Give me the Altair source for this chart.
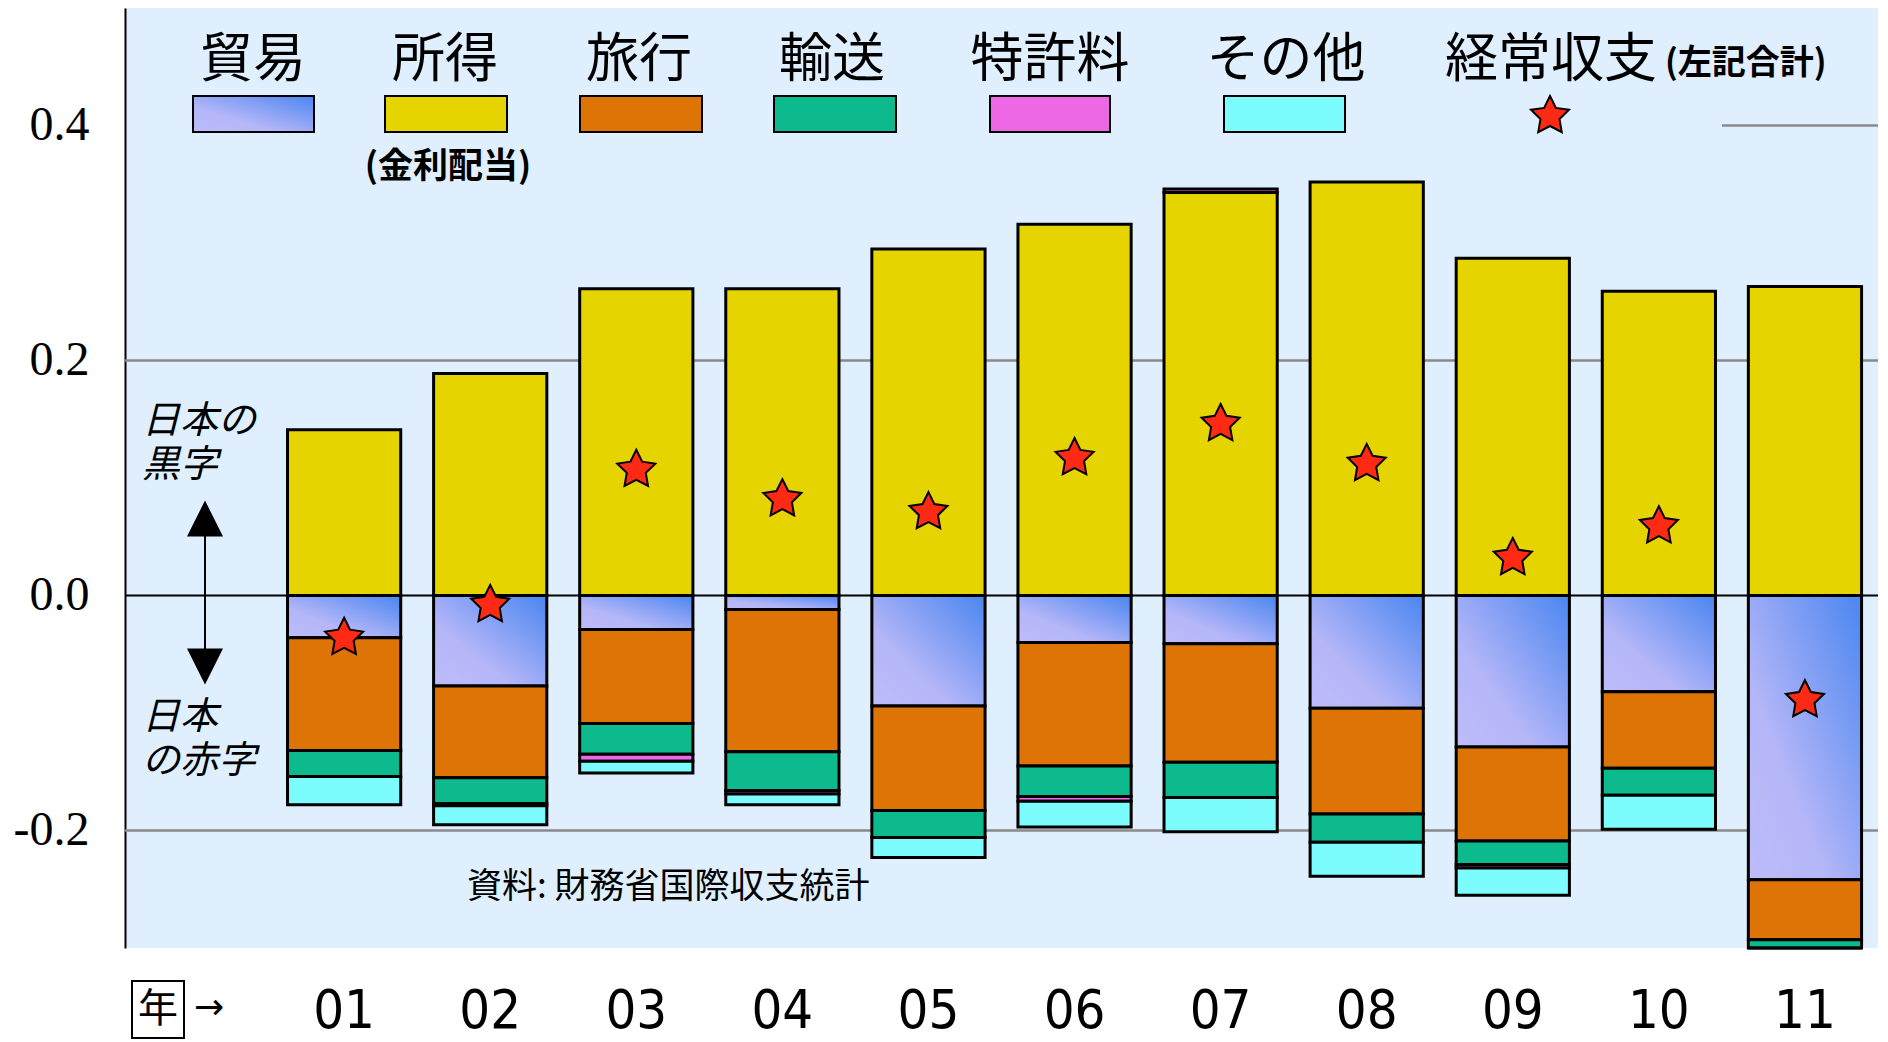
import math
import altair as alt
import pandas as pd

# ---------------- data ----------------
years = ["01", "02", "03", "04", "05", "06", "07", "08", "09", "10", "11"]
trade = [-0.036, -0.077, -0.029, -0.012, -0.094, -0.040, -0.041, -0.096, -0.129, -0.082, -0.242]
income = [0.141, 0.189, 0.261, 0.261, 0.295, 0.316, 0.343, 0.352, 0.287, 0.259, 0.263]
travel = [-0.096, -0.078, -0.080, -0.121, -0.089, -0.105, -0.101, -0.090, -0.080, -0.065, -0.051]
transport = [-0.022, -0.022, -0.026, -0.033, -0.023, -0.026, -0.030, -0.024, -0.020, -0.023, -0.025]
royalty = [0.0, -0.002, -0.006, -0.003, 0.0, -0.004, 0.003, 0.0, -0.003, 0.0, 0.0]
other = [-0.024, -0.016, -0.010, -0.009, -0.017, -0.022, -0.029, -0.029, -0.023, -0.029, -0.034]
current = [-0.036, -0.008, 0.107, 0.082, 0.071, 0.117, 0.146, 0.112, 0.032, 0.059, -0.089]

legend_names = ["貿易", "所得", "旅行", "輸送", "特許料", "その他", "経常収支"]
source_note = "資料: 財務省国際収支統計"

BLANK = " "

# ---------------- styling ----------------
W, H = 1753, 940
BG = "#DFEFFD"
C_INCOME = "#E6D400"
C_TRAVEL = "#DD7405"
C_TRANSPORT = "#0DBA8E"
C_ROYALTY = "#EE68E6"
C_OTHER = "#7CFCFC"
C_STAR = "#FF2A14"
trade_grad = alt.Gradient(
    gradient="linear", x1=0, y1=1, x2=1, y2=0,
    stops=[alt.GradientStop(color="#BEBCFA", offset=0),
           alt.GradientStop(color="#B4B6F8", offset=0.35),
           alt.GradientStop(color="#4A86F0", offset=1)])
fills = {"貿易": trade_grad, "所得": C_INCOME, "旅行": C_TRAVEL, "輸送": C_TRANSPORT,
         "特許料": C_ROYALTY, "その他": C_OTHER}

JP = "Noto Sans CJK JP"

# ---------------- stacking table ----------------
rows = []
for i, yr in enumerate(years):
    pos, neg = 0.0, 0.0
    comps = [("所得", income[i]), ("貿易", trade[i]), ("旅行", travel[i]),
             ("輸送", transport[i]), ("特許料", royalty[i]), ("その他", other[i])]
    for name, v in comps:
        if v == 0:
            continue
        if v > 0:
            rows.append({"year": yr, "series": name, "y0": pos, "y1": pos + v})
            pos += v
        else:
            rows.append({"year": yr, "series": name, "y0": neg, "y1": neg + v})
            neg += v
bars = pd.DataFrame(rows)
stars = pd.DataFrame({"year": years, "current": current})

# star path
pts = []
for k in range(10):
    r = 1.0 if k % 2 == 0 else 0.5
    a = -math.pi / 2 + k * math.pi / 5
    pts.append(f"{r*math.cos(a):.3f},{r*math.sin(a):.3f}")
STAR = "M" + "L".join(pts) + "Z"

yscale = alt.Scale(domain=[-0.3, 0.5], clamp=True, nice=False, zero=False)
yaxis = alt.Axis(values=[0.4, 0.2, 0, -0.2],
                 labelExpr="datum.value < 0 ? '-' + format(-datum.value, '.1f') : format(datum.value, '.1f')",
                 labelFont="Liberation Serif", labelFontSize=48, labelColor="black",
                 labelPadding=36, ticks=False, grid=False, domain=True,
                 domainColor="black", domainWidth=2, title=None)
xscale = alt.Scale(domain=[BLANK] + years, paddingInner=0.225, paddingOuter=0.1125)
xaxis = alt.Axis(labelFont="Liberation Sans Narrow, DejaVu Sans Condensed, Roboto Condensed, Liberation Sans",
                 labelFontSize=54, labelColor="black", labelPadding=36, labelAngle=0,
                 labelBaseline="top", ticks=False, domain=False, grid=False, title=None)


def X():
    return alt.X("year:N", scale=xscale, axis=xaxis, title=None)


def Y(field):
    return alt.Y(field, type="quantitative", scale=yscale, axis=yaxis, title=None)


one = pd.DataFrame({"k": [0]})


def txt(text, x, y, size, align="left", **kw):
    return alt.Chart(one).mark_text(text=text, fontSize=size, align=align, baseline="middle",
                                    color="black", **kw).encode(x=alt.value(x), y=alt.value(y))


def box(x1, x2, y1, y2, fill, sw=2):
    return alt.Chart(one).mark_rect(fill=fill, stroke="black", strokeWidth=sw).encode(
        x=alt.value(x1), x2=alt.value(x2), y=alt.value(y1), y2=alt.value(y2))


layers = []

# gridlines
grid = pd.DataFrame({"v": [0.2, -0.2]})
layers.append(alt.Chart(grid).mark_rule(color="#8A8A8A", strokeWidth=2.5).encode(
    y=Y("v"), x=alt.value(0), x2=alt.value(W)))
layers.append(alt.Chart(pd.DataFrame({"v": [0.4]})).mark_rule(color="#8A8A8A", strokeWidth=2.5).encode(
    y=Y("v"), x=alt.value(1597), x2=alt.value(W)))

# bars
for name in ["所得", "貿易", "旅行", "輸送", "特許料", "その他"]:
    sub = bars[bars.series == name]
    if len(sub) == 0:
        continue
    layers.append(alt.Chart(sub).mark_bar(fill=fills[name], stroke="black", strokeWidth=3,
                                          strokeJoin="miter").encode(
        x=X(), y=Y("y0"), y2="y1"))

# zero line
layers.append(alt.Chart(pd.DataFrame({"v": [0.0]})).mark_rule(color="black", strokeWidth=2).encode(
    y=Y("v"), x=alt.value(0), x2=alt.value(W)))

# stars (current account)
layers.append(alt.Chart(stars).mark_point(shape=STAR, filled=True, fill=C_STAR, stroke="black",
                                          strokeWidth=2, size=1600, opacity=1).encode(
    x=X(), y=Y("current")))

# surplus / deficit arrow annotation
arrow = pd.DataFrame({"a": [0.0655], "b": [-0.0604]})
layers.append(alt.Chart(arrow).mark_rule(color="black", strokeWidth=2).encode(
    x=alt.value(80), y=Y("a"), y2="b"))
layers.append(alt.Chart(arrow).mark_point(shape="M0,-1L1,1L-1,1Z", filled=True, fill="black",
                                          size=1296, opacity=1).encode(x=alt.value(80), y=Y("a")))
layers.append(alt.Chart(arrow).mark_point(shape="M0,1L1,-1L-1,-1Z", filled=True, fill="black",
                                          size=1296, opacity=1).encode(x=alt.value(80), y=Y("b")))
layers.append(alt.Chart(one).mark_text(text=["日本の", "黒字"], fontSize=38, align="left",
                                       baseline="middle", lineHeight=44, font=JP,
                                       fontStyle="italic", color="black").encode(
    x=alt.value(17), y=alt.value(414)))
layers.append(alt.Chart(one).mark_text(text=["日本", "の赤字"], fontSize=38, align="left",
                                       baseline="middle", lineHeight=44, font=JP,
                                       fontStyle="italic", color="black").encode(
    x=alt.value(17), y=alt.value(710)))

# source note
layers.append(txt(source_note, 342, 879, 35, font=JP))

# legend
lab_x = [128, 320, 514, 707, 925, 1161]
sw_x = [(68, 189), (260, 382), (455, 577), (649, 771), (865, 985), (1099, 1220)]
for i, name in enumerate(legend_names[:6]):
    layers.append(txt(name, lab_x[i], 53, 53, align="center", font=JP))
    layers.append(box(sw_x[i][0], sw_x[i][1], 88, 124, fills[name]))
layers.append(txt(legend_names[6], 1426, 53, 53, align="center", font=JP))
layers.append(txt("(左記合計)", 1540, 56, 34, font=JP, fontWeight="bold"))
layers.append(txt("(金利配当)", 323, 159, 35, align="center", font=JP, fontWeight="bold"))
layers.append(alt.Chart(one).mark_point(shape=STAR, filled=True, fill=C_STAR, stroke="black",
                                        strokeWidth=2, size=1600, opacity=1).encode(
    x=alt.value(1425), y=alt.value(108)))

# year marker
layers.append(box(7, 59, 973, 1030, "white", sw=2))
layers.append(txt("年", 33, 1002, 40, align="center", font=JP))
layers.append(txt("→", 84, 1000, 36, align="center", font="DejaVu Sans"))

chart = alt.layer(*layers).properties(
    width=W, height=H,
    autosize=alt.AutoSizeParams(type="none"),
    padding={"left": 117, "top": 0, "right": 2, "bottom": 92},
    background="white",
).configure_view(fill=BG, strokeWidth=0)

chart.save("out.html", embed_options={"renderer": "svg", "actions": False})
